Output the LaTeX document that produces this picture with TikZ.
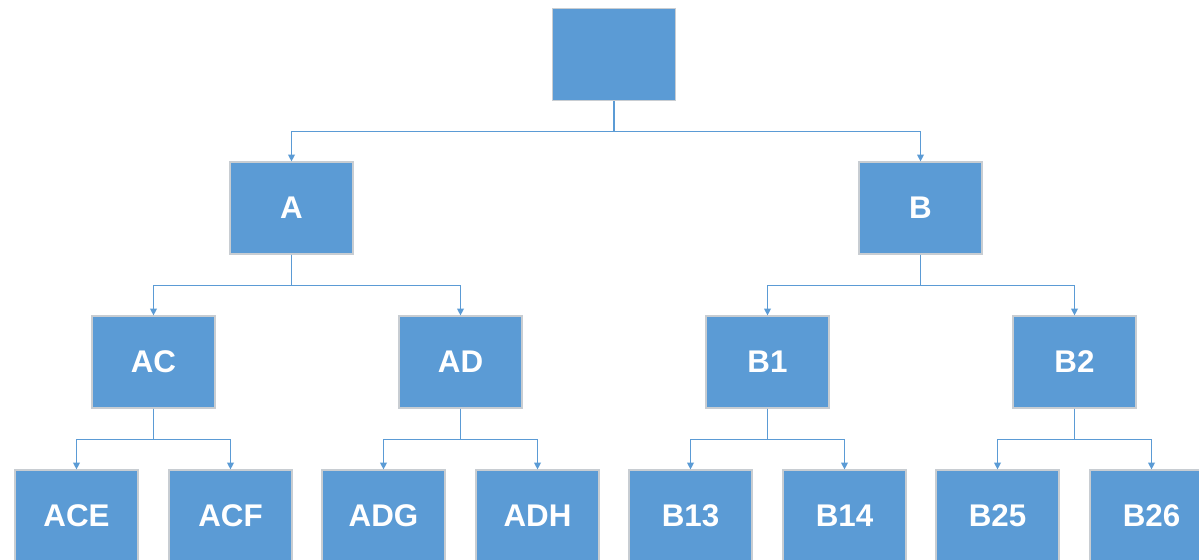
\documentclass[tikz,border=0pt]{standalone}
\usepackage{fontspec}
\setmainfont{Liberation Sans}
\usetikzlibrary{arrows.meta}
\definecolor{boxblue}{HTML}{5B9BD5}
\definecolor{boxedge}{HTML}{C8CDD2}
\definecolor{linkblue}{HTML}{5B9BD5}
\tikzset{
  orgbox/.style={draw=boxedge, line width=0.9pt, fill=boxblue, minimum width=92.25pt, minimum height=69pt, inner sep=0pt, text=white, font=\bfseries\fontsize{23.5}{26}\selectfont},
  link/.style={draw=linkblue, line width=0.9pt, -{Triangle[width=5pt,length=5pt]}}
}
\begin{document}
\begin{tikzpicture}[x=0.75pt,y=-0.75pt]
\useasboundingbox (0,0) rectangle (1199,560);
\clip (0,0) rectangle (1199,560);
\node[orgbox] (root) at (614,54.5) {};
\node[orgbox] (A) at (291.5,208) {A};
\node[orgbox] (B) at (920.5,208) {B};
\node[orgbox] (AC) at (153.5,362) {AC};
\node[orgbox] (AD) at (460.5,362) {AD};
\node[orgbox] (B1) at (767.5,362) {B1};
\node[orgbox] (B2) at (1074.5,362) {B2};
\node[orgbox] (ACE) at (76.5,516) {ACE};
\node[orgbox] (ACF) at (230.5,516) {ACF};
\node[orgbox] (ADG) at (383.5,516) {ADG};
\node[orgbox] (ADH) at (537.5,516) {ADH};
\node[orgbox] (B13) at (690.5,516) {B13};
\node[orgbox] (B14) at (844.5,516) {B14};
\node[orgbox] (B25) at (997.5,516) {B25};
\node[orgbox] (B26) at (1151.5,516) {B26};
\foreach \p/\c in {root/A,root/B,A/AC,A/AD,B/B1,B/B2,AC/ACE,AC/ACF,AD/ADG,AD/ADH,B1/B13,B1/B14,B2/B25,B2/B26}{
  \draw[link] (\p.south) -- ++(0,30.5) -| (\c.north);
}
\end{tikzpicture}
\end{document}
